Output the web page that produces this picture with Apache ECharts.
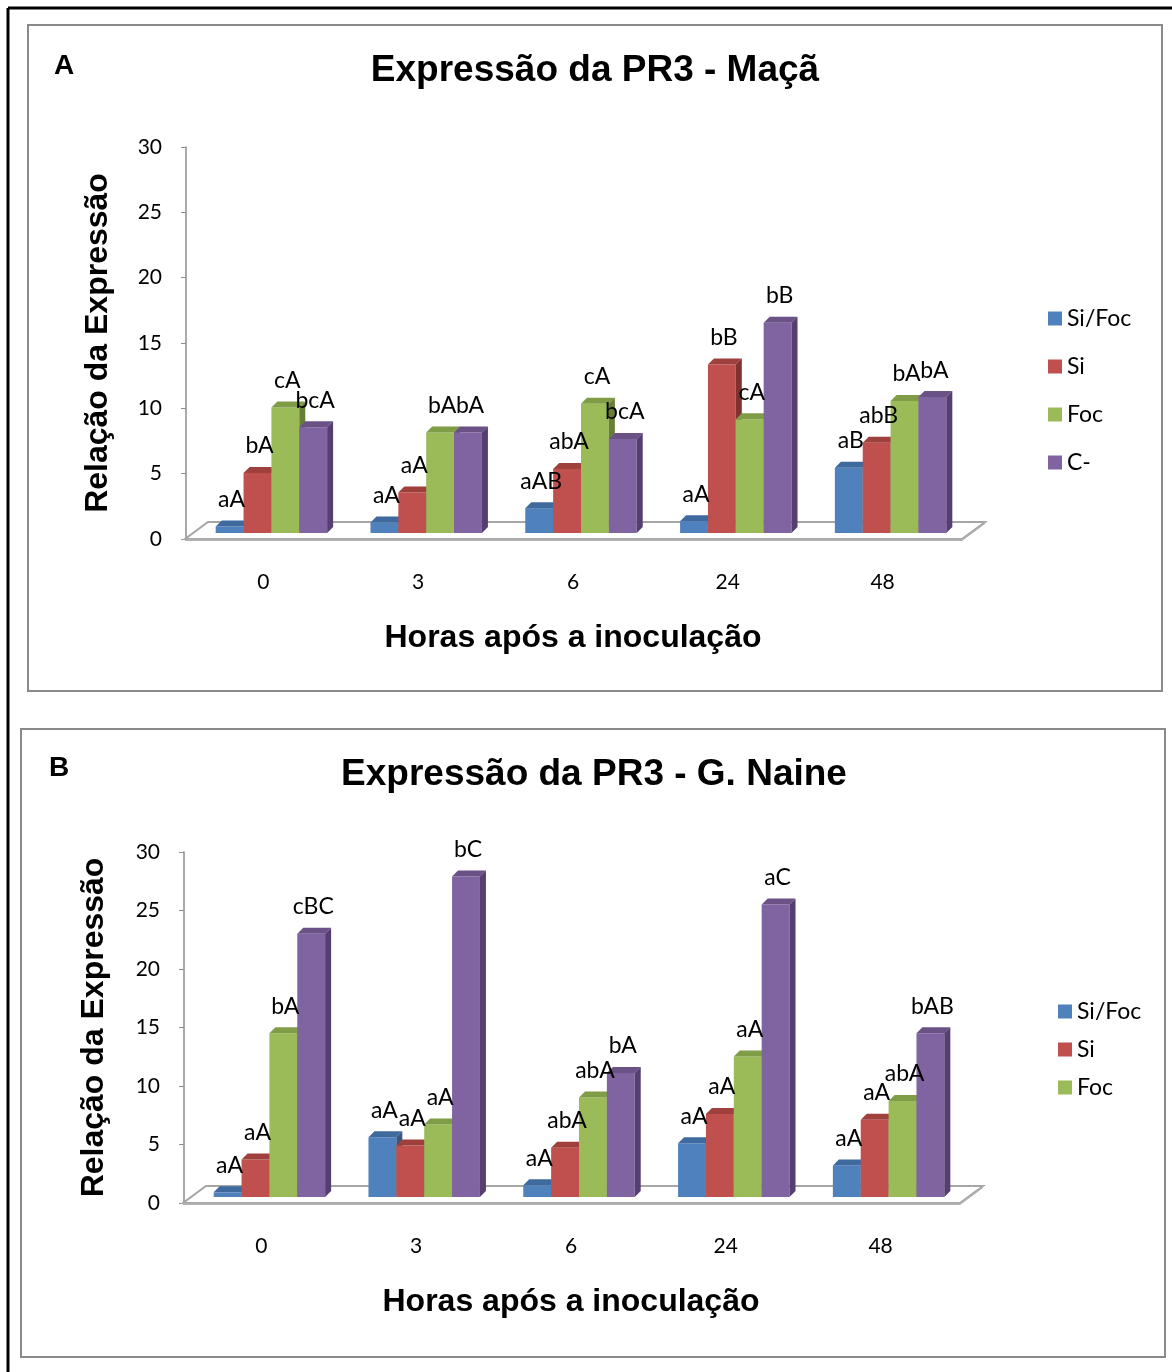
<!DOCTYPE html>
<html>
<head>
<meta charset="utf-8">
<script src="https://cdn.jsdelivr.net/npm/echarts@6/dist/echarts.min.js"></script>
<style>
  html, body { margin: 0; padding: 0; background: #fff; }
  #main { width: 1172px; height: 1372px; }
</style>
</head>
<body>
<div id="main"></div>
<script>
var hours = ["0", "3", "6", "24", "48"];
var seriesNames = ["Si/Foc", "Si", "Foc", "C-"];
var colors = ["#4F81BD", "#C0504D", "#9BBB59", "#8064A2"];
var tops = ["#3F6A9E", "#A0403D", "#7F9C47", "#6A5287"];
var sides = ["#37577F", "#7F3230", "#677E38", "#553F70"];
var yTicks = [0, 5, 10, 15, 20, 25, 30];

// A - Maçã
var macaSiFoc = [0.5, 0.8, 1.9, 0.9, 5.0];
var macaSi = [4.6, 3.1, 4.9, 12.9, 6.9];
var macaFoc = [9.6, 7.7, 9.9, 8.7, 10.1];
var macaC = [8.1, 7.7, 7.2, 16.1, 10.4];
var macaLabels = [
  ["aA", "aA", "aAB", "aA", "aB"],
  ["bA", "aA", "abA", "bB", "abB"],
  ["cA", "bA", "cA", "cA", "bA"],
  ["bcA", "bA", "bcA", "bB", "bA"]
];

// B - G. Naine
var naineSiFoc = [0.4, 5.1, 1.0, 4.6, 2.7];
var naineSi = [3.2, 4.4, 4.2, 7.1, 6.6];
var naineFoc = [14.0, 6.2, 8.5, 12.0, 8.2];
var naineC = [22.5, 27.4, 10.6, 25.0, 14.0];
var naineLabels = [
  ["aA", "aA", "aA", "aA", "aA"],
  ["aA", "aA", "abA", "aA", "aA"],
  ["bA", "aA", "abA", "aA", "abA"],
  ["cBC", "bC", "bA", "aC", "bAB"]
];

var DX = 8, DY = -6, DEPTH = 6;

function barRender(k, labels) {
  return function (params, api) {
    var ci = api.value(0);
    var v = api.value(1);
    var p = api.coord([ci, v]);
    var b = api.coord([ci, 0]);
    var w = api.size([1, 0])[0] * 0.18;
    var x0 = b[0] - 2 * w + k * w + DX;
    var yb = b[1] + DY;
    var yt = p[1] + DY;
    var d = DEPTH;
    return {
      type: "group",
      children: [
        { type: "rect", shape: { x: x0, y: yt, width: w, height: yb - yt }, style: { fill: colors[k] } },
        { type: "polygon", shape: { points: [[x0, yt], [x0 + w, yt], [x0 + w + d, yt - d], [x0 + d, yt - d]] }, style: { fill: tops[k] } },
        { type: "polygon", shape: { points: [[x0 + w, yt], [x0 + w + d, yt - d], [x0 + w + d, yb - d], [x0 + w, yb]] }, style: { fill: sides[k] } },
        {
          type: "text", z2: 100,
          style: {
            text: labels[ci], x: x0 + w / 2 + 2, y: yt - 27,
            align: "center", verticalAlign: "middle",
            font: "23px Lato", fill: "#000"
          }
        }
      ]
    };
  };
}

function floorRender(params, api) {
  var cs = params.coordSys;
  var x = cs.x, y = cs.y + cs.height, r = cs.x + cs.width + 2;
  return {
    type: "group",
    children: [
      { type: "polygon", shape: { points: [[x - 1, y], [r, y], [r + 23, y - 17], [x + 22, y - 17]] },
        style: { fill: "#fff", stroke: "#A6A6A6", lineWidth: 2 } },
      { type: "rect", shape: { x: x - 1, y: y, width: r - x + 1, height: 2 }, style: { fill: "#B0B0B0" } },
      { type: "polygon", shape: { points: [[r, y], [r + 23, y - 17], [r + 23, y - 15], [r, y + 2]] }, style: { fill: "#B0B0B0" } }
    ]
  };
}

function toPairs(arr) {
  return arr.map(function (v, i) { return [i, v]; });
}

function buildSeries(gridIdx, lists, labels) {
  var out = [{
    type: "custom", xAxisIndex: gridIdx, yAxisIndex: gridIdx, z: 1,
    renderItem: floorRender, data: [[0, 0]], silent: true
  }];
  lists.forEach(function (list, k) {
    out.push({
      name: seriesNames[k], type: "custom",
      xAxisIndex: gridIdx, yAxisIndex: gridIdx,
      itemStyle: { color: colors[k] },
      encode: { x: 0, y: 1 },
      renderItem: barRender(k, labels[k]),
      data: toPairs(list)
    });
  });
  return out;
}

function xAxisFor(gridIdx) {
  return {
    type: "category", gridIndex: gridIdx, data: hours, boundaryGap: true,
    axisLine: { show: false }, axisTick: { show: false },
    axisLabel: { margin: 33, fontFamily: "Lato", fontSize: 21, color: "#000" },
    name: "Horas após a inoculação", nameLocation: "middle", nameGap: 83,
    nameTextStyle: { fontFamily: "Liberation Sans", fontWeight: "bold", fontSize: 32, color: "#000" }
  };
}

function yAxisFor(gridIdx, gap) {
  return {
    type: "value", gridIndex: gridIdx, min: yTicks[0], max: yTicks[yTicks.length - 1], interval: 5,
    splitLine: { show: false },
    axisLine: { show: true, lineStyle: { color: "#8C8C8C", width: 1.5 } },
    axisTick: { show: true, length: 5, lineStyle: { color: "#8C8C8C" } },
    axisLabel: { margin: 24, fontFamily: "Lato", fontSize: 21, color: "#000" },
    name: "Relação da Expressão", nameLocation: "middle", nameGap: gap, nameRotate: 90,
    nameTextStyle: { fontFamily: "Liberation Sans", fontWeight: "bold", fontSize: 32, color: "#000" }
  };
}

var chart = echarts.init(document.getElementById("main"), null, { renderer: "canvas" });

var legendText = { fontFamily: "Lato", fontSize: 23, color: "#000" };

var option = {
  animation: false,
  backgroundColor: "#fff",
  title: [
    { text: "Expressão da PR3 - Maçã", left: 590, top: 47, textAlign: "center",
      textStyle: { fontFamily: "Liberation Sans", fontWeight: "bold", fontSize: 37, color: "#000" } },
    { text: "Expressão da PR3 - G. Naine", left: 589, top: 751, textAlign: "center",
      textStyle: { fontFamily: "Liberation Sans", fontWeight: "bold", fontSize: 37, color: "#000" } }
  ],
  legend: [
    { data: seriesNames, orient: "vertical", left: 1043, top: 302, icon: "rect",
      itemWidth: 14, itemHeight: 14, itemGap: 25, textStyle: legendText, selectedMode: false },
    { data: seriesNames.slice(0, 3), orient: "vertical", left: 1053, top: 995, icon: "rect",
      itemWidth: 14, itemHeight: 14, itemGap: 15, textStyle: legendText, selectedMode: false }
  ],
  grid: [
    { left: 186, right: 212, top: 147, bottom: 833 },
    { left: 184, right: 214, top: 852, bottom: 169 }
  ],
  xAxis: [xAxisFor(0), xAxisFor(1)],
  yAxis: [yAxisFor(0, 72), yAxisFor(1, 74)],
  graphic: [
    { type: "line", shape: { x1: 8, y1: 8, x2: 1172, y2: 8 }, style: { stroke: "#000", lineWidth: 3 } },
    { type: "line", shape: { x1: 8, y1: 8, x2: 8, y2: 1372 }, style: { stroke: "#000", lineWidth: 3 } },
    { type: "rect", shape: { x: 28, y: 25, width: 1134, height: 666 }, style: { fill: null, stroke: "#8A8A8A", lineWidth: 2 } },
    { type: "rect", shape: { x: 21, y: 729, width: 1144, height: 628 }, style: { fill: null, stroke: "#8A8A8A", lineWidth: 2 } },
    { type: "text", left: 54, top: 52, style: { text: "A", font: "bold 28px Liberation Sans", fill: "#000" } },
    { type: "text", left: 49, top: 754, style: { text: "B", font: "bold 28px Liberation Sans", fill: "#000" } }
  ],
  series: buildSeries(0, [macaSiFoc, macaSi, macaFoc, macaC], macaLabels)
    .concat(buildSeries(1, [naineSiFoc, naineSi, naineFoc, naineC], naineLabels))
};

chart.setOption(option);
</script>
</body>
</html>
